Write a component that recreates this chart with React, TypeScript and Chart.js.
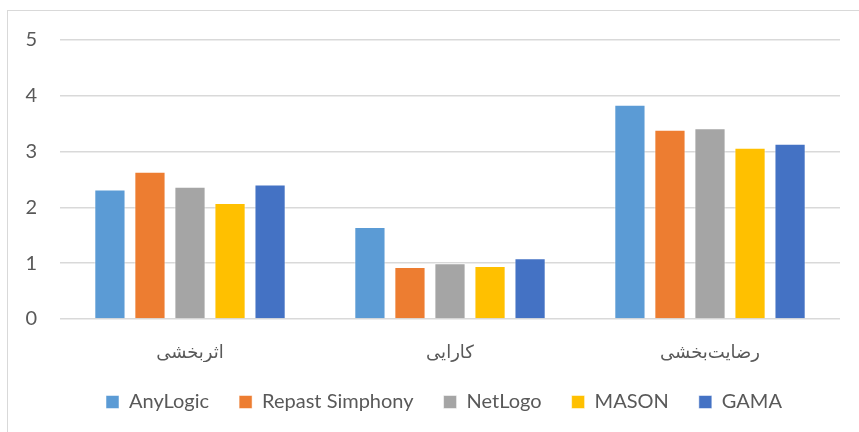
import React, { useEffect, useRef } from "react";
import { Chart, registerables } from "chart.js";

Chart.register(...registerables);

const categories = ["اثربخشی", "کارایی", "رضایت‌بخشی"];
const seriesNames = ["AnyLogic", "Repast Simphony", "NetLogo", "MASON", "GAMA"];
const anyLogic = [2.32, 1.65, 3.84];
const repast = [2.64, 0.93, 3.39];
const netLogo = [2.37, 1.0, 3.42];
const mason = [2.08, 0.95, 3.07];
const gama = [2.41, 1.09, 3.14];
const seriesColors = ["#5B9BD5", "#ED7D31", "#A5A5A5", "#FFC000", "#4472C4"];
const yTicks = [0, 1, 2, 3, 4, 5];

const legendShift = {
  id: "legendShift",
  afterLayout(chart: any) {
    if (chart.legend) {
      chart.legend.left += 24;
      chart.legend.right += 24;
    }
  },
};

export default function App() {
  const ref = useRef<HTMLCanvasElement | null>(null);
  useEffect(() => {
    document.body.style.margin = "0";
    const values = [anyLogic, repast, netLogo, mason, gama];
    const chart = new Chart(ref.current as HTMLCanvasElement, {
      type: "bar",
      data: {
        labels: categories,
        datasets: seriesNames.map((n, i) => ({
          label: n,
          data: values[i],
          backgroundColor: seriesColors[i],
          borderColor: "rgba(255,255,255,0.5)",
          borderWidth: 1,
          barPercentage: 0.78,
          categoryPercentage: 0.77,
        })),
      },
      plugins: [legendShift],
      options: {
        animation: false,
        responsive: false,
        maintainAspectRatio: false,
        layout: { padding: { left: 0, right: 19, top: 40, bottom: 10 } },
        plugins: {
          tooltip: { enabled: false },
          legend: {
            position: "bottom",
            labels: {
              boxWidth: 13,
              boxHeight: 13,
              padding: 30,
              color: "#595959",
              font: { family: "Lato", size: 20 },
            },
          },
        },
        scales: {
          x: {
            grid: { display: false, drawTicks: false },
            border: { display: false },
            ticks: {
              color: "#595959",
              font: { family: "DejaVu Sans", size: 18 },
              padding: 24,
            },
            afterFit: (s: any) => {
              s.height = 43;
            },
          },
          y: {
            min: 0,
            max: 5,
            afterBuildTicks: (s: any) => {
              s.ticks = yTicks.map((v) => ({ value: v }));
            },
            grid: { color: "#D9D9D9", lineWidth: 1.5, drawTicks: false },
            border: { display: false },
            ticks: {
              color: "#595959",
              font: { family: "Lato", size: 20 },
              padding: 23,
            },
            afterFit: (s: any) => {
              s.width = 60;
            },
          },
        },
      },
    });
    return () => chart.destroy();
  }, []);
  return (
    <div style={{ position: "relative", width: 859, height: 432, background: "#fff" }}>
      <div
        style={{
          position: "absolute",
          left: 7,
          top: 10,
          width: 860,
          height: 430,
          border: "1px solid #D9D9D9",
          boxSizing: "border-box",
        }}
      />
      <canvas ref={ref} width={859} height={432} style={{ position: "absolute", left: 0, top: 0 }} />
    </div>
  );
}
